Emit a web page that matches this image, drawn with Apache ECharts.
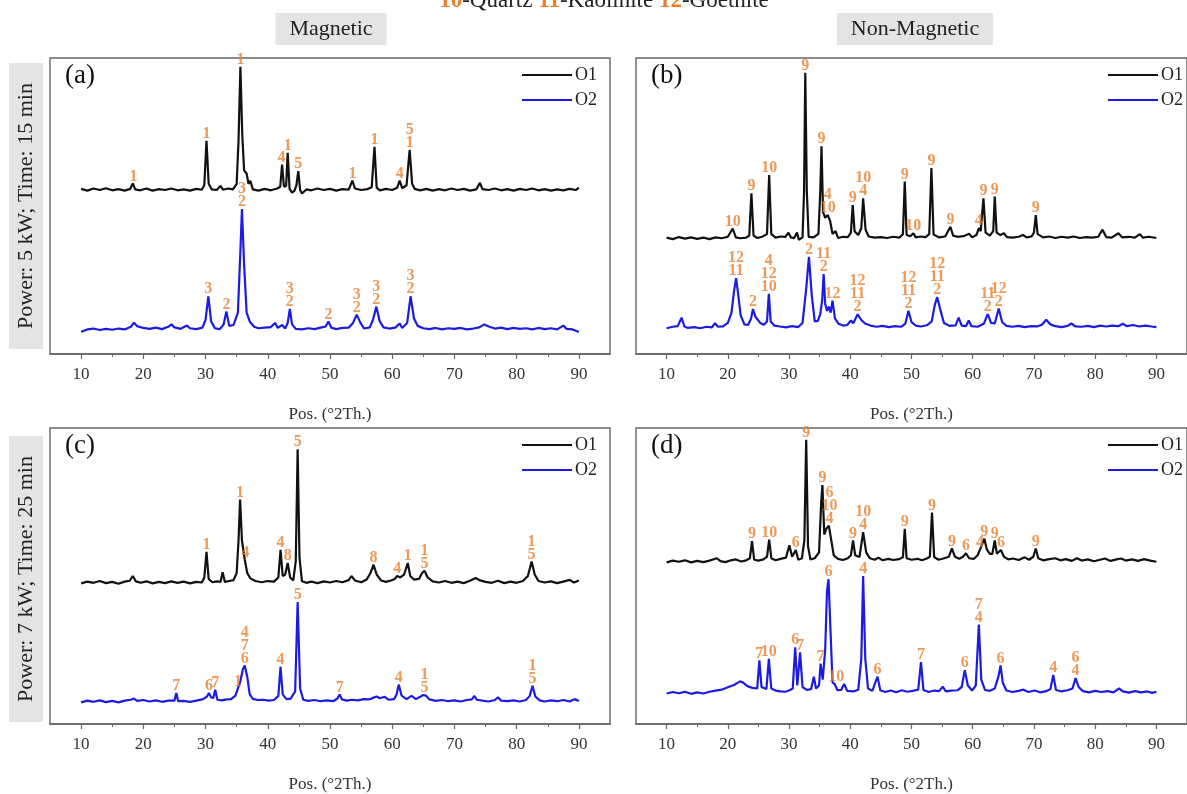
<!DOCTYPE html>
<html>
<head>
<meta charset="utf-8">
<title>XRD patterns</title>
<script src="https://cdn.jsdelivr.net/npm/echarts@6.0.0/dist/echarts.min.js"></script>
<style>
html, body { margin: 0; padding: 0; background: #fff; }
#xrdChart { width: 1187px; height: 794px; }
</style>
</head>
<body>
<div id="xrdChart"></div>
<script>
// axis ticks (°2Th)
const majorTicks = [10, 20, 30, 40, 50, 60, 70, 80, 90]
const minorTicks = [15, 25, 35, 45, 55, 65, 75, 85]
const seriesNames = ['O1', 'O2']
const panelNames = ['(a)', '(b)', '(c)', '(d)']
const rowTitles = ['Power: 5 kW; Time: 15 min', 'Power: 7 kW; Time: 25 min']
const colTitles = ['Magnetic', 'Non-Magnetic']

// (a) magnetic, 5 kW 15 min  -- [2theta, intensity as plotted]
const aO1 = [[10,55.8],[11,55.2],[12,55.9],[13,55.4],[14,56.0],[15,55.3],[16,55.7],[17,55.2],[17.9,55.8],[18.3,57.6],[18.7,55.6],[19.5,55.3],[20.5,55.9],[21.5,55.2],[22.5,55.7],[23.5,55.4],[24.5,55.9],[25.5,55.3],[26.5,55.6],[27.5,55.2],[28.5,55.8],[29.4,55.5],[29.8,57],[30.15,72],[30.5,57.5],[31,55.6],[31.8,55.4],[32.4,56.8],[32.8,55.5],[33.6,55.9],[34.4,55.6],[35.0,57.5],[35.3,72],[35.6,97],[35.9,74],[36.2,62],[36.6,61],[36.9,57.5],[37.2,58.5],[37.6,55.6],[38.5,55.2],[39.5,55.8],[40.5,55.3],[41.5,55.9],[42.0,56.5],[42.3,64],[42.6,56.5],[42.95,56.8],[43.2,68],[43.5,55.8],[43.9,54.5],[44.3,55.2],[44.6,57],[44.9,61.8],[45.2,55.4],[45.5,54.2],[46.2,55.6],[47,55.3],[48,55.9],[49,55.4],[50,55.8],[51,55.2],[52,55.7],[53,55.5],[53.6,58.6],[54.0,55.9],[55,55.4],[56,55.7],[56.7,56.3],[57.15,70],[57.5,56.2],[58,55.3],[59,55.8],[60,55.4],[60.8,56.2],[61.2,58.6],[61.6,56],[62.3,57],[62.8,69],[63.2,57.5],[63.6,55.8],[64.5,55.3],[65.5,55.8],[66.5,55.2],[67.5,55.7],[68.5,55.3],[69.5,55.9],[70.5,55.4],[71.5,55.8],[72.5,55.2],[73.5,55.6],[74.1,57.8],[74.5,55.7],[75.5,55.4],[76.5,55.9],[77.5,55.3],[78.5,55.7],[79.5,55.2],[80.5,55.8],[81.5,55.4],[82.5,55.9],[83.5,55.3],[84.5,55.7],[85.5,55.2],[86.5,55.6],[87.5,55.3],[88.5,55.8],[89.5,55.4],[90,56.2]]
const aO2 = [[10,7.5],[11,8.3],[12,8.6],[13,8.1],[14,8.5],[15,8.2],[16,8.6],[17,8.3],[18,9.2],[18.5,10.6],[19,9.4],[20,8.8],[21,8.5],[22,8.9],[23,8.4],[24,9.2],[24.5,10],[25,9],[26,8.5],[27,9.6],[27.5,8.7],[28.5,8.4],[29.5,8.9],[30.0,11.5],[30.45,19.5],[30.9,11],[31.5,8.7],[32.3,8.4],[32.9,10],[33.35,14.4],[33.8,9.5],[34.5,9.8],[35.2,14],[35.6,35],[35.85,49],[36.2,30],[36.6,14],[37.1,11],[37.8,9.2],[38.5,8.7],[39.5,8.9],[40.5,9.1],[41.2,10.5],[41.6,8.8],[42.3,9.8],[42.8,8.6],[43.2,10.5],[43.55,15.2],[43.9,10],[44.5,8.5],[45.5,8.3],[46.5,8.7],[47.5,8.4],[48.5,8.9],[49.3,9.3],[49.75,11],[50.2,8.9],[51,8.4],[52,8.8],[53,8.9],[53.7,10.5],[54.3,13.3],[54.9,10.5],[55.5,8.6],[56.4,9],[56.9,11.5],[57.45,16],[58,11],[58.6,9],[59.5,8.6],[60.5,8.9],[61.2,10.3],[61.6,8.8],[62.4,10.5],[62.95,19.5],[63.5,12],[64.1,9.5],[65,8.7],[66,8.4],[67,8.8],[68,8.3],[69,8.7],[70,8.5],[71,8.8],[72,8.3],[73,8.6],[74,9],[74.8,10],[75.5,9.3],[76.5,8.6],[77.5,8.9],[78.5,8.4],[79.5,8.8],[80.5,8.5],[81.5,8.7],[82.5,8.3],[83.5,8.8],[84.5,8.4],[85.5,8.7],[86.5,8.3],[87.5,9.6],[88,8.5],[89,8.3],[90,7.4]]
const aLab1 = [[18.4,57.6,'1'],[30.15,72,'1'],[35.6,97,'1'],[42.2,64,'4'],[43.2,68,'1'],[44.9,61.8,'5'],[53.6,58.6,'1'],[57.15,70,'1'],[61.2,58.6,'4'],[62.8,69,'5\n1']]
const aLab2 = [[30.45,19.5,'3'],[33.35,14.4,'2'],[35.85,49,'3\n2'],[43.55,15.2,'3\n2'],[49.75,11,'2'],[54.3,13.3,'3\n2'],[57.45,16,'3\n2'],[62.95,19.5,'3\n2']]

// (b) non-magnetic, 5 kW 15 min
const bO1 = [[10,39.3],[11,38.8],[12,39.5],[13,39.0],[14,39.4],[15,38.9],[16,39.3],[17,38.8],[18,39.4],[19,39.1],[20,39.6],[20.8,42.4],[21.3,39.4],[22,39.1],[23,39.3],[23.5,40],[23.85,54.3],[24.2,40],[24.8,39.2],[25.6,39.6],[26.4,40.5],[26.75,60.5],[27.1,40.5],[27.8,39.3],[28.6,39.7],[29.4,39.6],[29.9,41],[30.3,39.4],[30.8,39.1],[31.3,41],[31.6,38.6],[32.2,39.4],[32.45,55],[32.65,95],[32.9,55],[33.2,39.6],[34,39.4],[34.8,40.6],[35.1,55],[35.3,70.2],[35.55,48],[35.9,46],[36.3,47],[36.7,45],[37.1,40.6],[37.6,41.5],[38,39.2],[38.8,39.6],[39.6,39.5],[40.1,41],[40.4,50.3],[40.7,41.5],[41.3,40.2],[41.8,42.5],[42.1,52.6],[42.5,42],[43,39.7],[44,39.3],[45,39.5],[46,39.2],[47,39.6],[48,39.3],[48.6,40.5],[48.9,58.3],[49.2,40.2],[49.8,39.8],[50.3,40.8],[50.7,39.4],[51.5,39.7],[52.3,39.5],[52.9,40.5],[53.25,62.8],[53.6,40.4],[54.5,39.4],[55.5,39.7],[56.35,43],[56.8,40],[57.5,39.6],[58.5,39.8],[59.4,40.6],[59.9,39.4],[60.6,40.2],[61,42.5],[61.3,41.5],[61.75,52.6],[62.1,41],[62.8,40],[63.35,41.5],[63.6,53.2],[63.9,41],[64.5,40.2],[65.1,40.8],[65.6,39.5],[66.5,39.3],[67.5,39.6],[68.2,40.2],[68.8,39.4],[69.6,39.7],[70.0,41],[70.3,46.9],[70.6,40.5],[71.5,39.4],[72.5,39.7],[73.5,39.2],[74.5,39.6],[75.5,39.3],[76.5,39.7],[77.5,39.2],[78.5,39.5],[79.5,39.3],[80.5,39.6],[81.2,42],[81.8,39.5],[82.7,39.3],[83.8,40.8],[84.4,39.4],[85.5,39.6],[86.5,39.3],[87.3,40.5],[87.8,39.3],[88.8,39.6],[90,39.2]]
const bO2 = [[10,8.7],[11,9.2],[11.8,9.4],[12.45,12.3],[12.9,9.3],[13.5,8.8],[14.5,9.1],[15.5,8.7],[16.5,9.2],[17.4,9.0],[17.9,10.4],[18.4,9.2],[19.2,9.3],[20.0,10.5],[20.6,14],[21.0,21],[21.35,25.6],[21.7,20],[22.1,13],[22.7,10],[23.3,9.8],[23.8,12],[24.1,15.2],[24.5,12.6],[24.8,13],[25.3,10.5],[25.9,9.9],[26.4,11],[26.7,20.3],[27.0,11],[27.6,9.6],[28.5,9.3],[29.5,9.0],[30.5,9.4],[31.5,9.1],[32.2,10.5],[32.8,22],[33.25,32.8],[33.7,20],[34.2,11],[34.7,11.2],[35.1,13.5],[35.4,18],[35.65,27],[35.9,17],[36.2,14.5],[36.5,16],[36.8,14],[37.1,18],[37.5,12],[38.1,10.2],[38.8,9.6],[39.5,9.8],[40.1,11.3],[40.5,10.4],[41.2,13.4],[41.8,11.5],[42.5,10.2],[43.3,9.6],[44.3,9.2],[45.3,9.5],[46.3,9.1],[47.3,9.4],[48.3,9.2],[49.0,10.3],[49.5,14.6],[50,10.8],[50.7,9.6],[51.5,9.3],[52.5,9.7],[53.3,11],[53.8,16.5],[54.2,19.2],[54.7,15],[55.3,10.5],[56.2,9.5],[57.2,9.7],[57.7,12.3],[58.2,9.6],[58.9,9.4],[59.35,11.3],[59.8,9.4],[60.8,9.2],[61.8,10.2],[62.45,13.5],[63.0,10.5],[63.6,10.3],[64.25,15.4],[64.8,10.8],[65.5,9.5],[66.5,9.2],[67.5,9.5],[68.5,9.1],[69.5,9.4],[70.5,9.3],[71.3,9.9],[72,11.6],[72.7,10],[73.5,9.4],[74.5,9.1],[75.5,9.5],[76.1,10.3],[76.8,9.3],[77.8,9.2],[78.8,9.5],[79.8,9.1],[80.8,9.6],[81.8,9.3],[82.8,9.6],[83.8,9.4],[84.5,10.2],[85.2,9.4],[86.2,9.8],[87.2,9.3],[88.2,9.6],[89.2,9.3],[90,9.1]]
const bLab1 = [[20.8,42.4,'10'],[23.85,54.3,'9'],[26.75,60.5,'10'],[32.65,95,'9'],[35.3,70.2,'9'],[36.3,47,'4\n10'],[40.4,50.3,'9'],[42.1,52.6,'10\n4'],[48.9,58.3,'9'],[50.3,40.8,'10'],[53.25,62.8,'9'],[56.35,43,'9'],[61,42.5,'4'],[61.75,52.6,'9'],[63.6,53.2,'9'],[70.3,46.9,'9']]
const bLab2 = [[21.35,25.6,'12\n11'],[24.1,15.2,'2'],[26.7,20.3,'4\n12\n10'],[33.25,32.8,'2'],[35.65,27,'11\n2'],[37.1,18,'12'],[41.2,13.4,'12\n11\n2'],[49.5,14.6,'12\n11\n2'],[54.2,19.2,'12\n11\n2'],[62.45,13.5,'11\n2'],[64.25,15.4,'12\n2']]

// (c) magnetic, 7 kW 25 min
const cO1 = [[10,47.5],[11,48.1],[12,47.7],[13,48.3],[14,47.6],[15,48.0],[16,47.4],[17,48.1],[17.8,48.4],[18.3,50],[18.8,48.2],[19.6,47.7],[20.5,48.2],[21.5,47.5],[22.5,48.0],[23.5,47.6],[24.5,48.2],[25.5,47.7],[26.5,48.1],[27.5,47.5],[28.5,48.0],[29.4,47.8],[29.8,49.5],[30.15,58.2],[30.5,49],[31.1,47.9],[31.8,48.2],[32.4,48],[32.75,51.3],[33.1,48],[33.8,48.3],[34.5,48.6],[35.0,51],[35.3,62],[35.55,75.8],[35.85,62],[36.3,55.5],[36.7,51],[37.2,49.2],[38,48.3],[39,47.9],[40,48.3],[41,48.1],[41.7,49.5],[42.05,58.8],[42.4,50],[42.8,50.5],[43.2,54.4],[43.6,49.5],[44.1,48.5],[44.5,55],[44.8,92.8],[45.1,56],[45.5,48.2],[46.2,47.7],[47,48.1],[48,47.6],[49,48.2],[50,47.8],[51,48.3],[52,47.9],[53,48.6],[53.45,50],[54,48.5],[55,47.9],[55.9,48.8],[56.5,51],[57,53.8],[57.5,50.5],[58.2,48.5],[59,48],[59.8,48.5],[60.4,49],[60.8,50],[61.3,49.5],[61.9,50.5],[62.5,54.4],[62.9,50],[63.5,48.8],[64.3,49],[64.8,51],[65.2,51.8],[65.7,49.5],[66.5,48.2],[67.5,47.8],[68.5,48.3],[69.5,47.7],[70.5,48.1],[71.5,47.6],[72.5,48.4],[73.4,49.3],[74,48.6],[75,48],[76,47.7],[77,48.4],[78,47.6],[79,48.1],[80,47.7],[81,48.3],[81.8,50],[82.4,54.9],[82.9,50.5],[83.5,48.3],[84.5,47.8],[85.5,48.2],[86.5,47.6],[87.5,48.1],[88.5,48.7],[89.2,47.8],[90,48.5]]
const cO2 = [[10,7.3],[11,7.9],[12,7.5],[13,8.0],[14,7.4],[15,7.8],[16,7.3],[17,7.9],[18,8.2],[18.5,8.6],[19,7.8],[20,8.1],[21,7.6],[22,8.0],[23,7.5],[24,7.9],[25.0,7.9],[25.3,10.5],[25.6,7.7],[26.5,7.8],[27.5,7.5],[28.5,7.9],[29.5,8.3],[30.2,9.2],[30.55,10.5],[30.9,9],[31.25,8.8],[31.55,11.6],[31.9,8.2],[32.6,8],[33.4,8.3],[34.1,8.4],[34.8,9.6],[35.2,12],[35.6,14.5],[36.0,18.5],[36.3,19.8],[36.7,16],[37.1,10],[37.6,8.5],[38.4,8.1],[39.3,8.2],[40.2,7.9],[41,8.1],[41.7,9.5],[42.05,19.3],[42.4,10],[43,8.4],[43.7,8.6],[44.4,11],[44.8,41.2],[45.2,12],[45.7,8.2],[46.5,7.8],[47.5,8.1],[48.5,7.7],[49.5,8.0],[50.5,7.7],[51.2,8.6],[51.55,10],[51.9,8.3],[52.7,7.9],[53.5,8.2],[54.5,8.0],[55.4,8.4],[56.3,8.3],[57.1,9],[57.5,9.3],[58,8.7],[58.8,9.2],[59.4,8.2],[60.3,8.4],[60.7,10],[61.05,13.3],[61.5,9.6],[62.3,8.4],[63.1,9.5],[63.8,8.4],[64.5,9.2],[65.0,9.8],[65.4,9.6],[66,8.3],[67,7.8],[68,8.1],[69,7.7],[70,8.0],[71,7.6],[72,8.1],[72.8,8.3],[73.2,9.5],[73.6,8.2],[74.5,7.9],[75.5,7.6],[76.5,8.1],[77,9],[77.5,7.9],[78.5,7.7],[79.5,8.0],[80.5,7.6],[81.5,8.1],[82.1,9.5],[82.55,12.9],[83,9.3],[83.7,8],[84.5,7.6],[85.5,8.0],[86.5,7.7],[87.5,8.1],[88.5,7.6],[89.3,8.4],[90,7.8]]
const cLab1 = [[30.15,58.2,'1'],[35.55,75.8,'1'],[36.4,55.5,'4'],[42.05,58.8,'4'],[43.2,54.4,'8'],[44.8,92.8,'5'],[57,53.8,'8'],[60.8,50,'4'],[62.5,54.4,'1'],[65.2,51.8,'1\n5'],[82.4,54.9,'1\n5']]
const cLab2 = [[25.3,10.5,'7'],[30.55,10.5,'6'],[31.55,11.6,'7'],[35.2,12,'1'],[36.3,19.8,'4\n7\n6'],[42.05,19.3,'4'],[44.8,41.2,'5'],[51.55,10,'7'],[61.05,13.3,'4'],[65.2,9.8,'1\n5'],[82.55,12.9,'1\n5']]

// (d) non-magnetic, 7 kW 25 min
const dO1 = [[10,54.6],[11,55.2],[12,54.8],[13,55.3],[14,54.6],[15,55.1],[16,54.7],[17,55.2],[18.2,56],[18.8,55],[19.6,54.7],[20.5,55.3],[21.3,55.6],[22.2,54.9],[23,55.3],[23.6,56],[23.95,61.8],[24.3,55.5],[25,55.2],[25.8,55.6],[26.4,56.5],[26.75,62.3],[27.1,56],[27.8,55.3],[28.6,55.8],[29.5,56.2],[30.05,60.4],[30.5,56.5],[30.8,56],[31.1,58.8],[31.5,55.5],[32.1,56],[32.5,62],[32.8,96],[33.1,60],[33.5,55.6],[34.2,56],[34.9,58],[35.25,75],[35.45,80.7],[35.75,64],[36.1,66],[36.5,67],[36.9,62],[37.3,57],[38,55.8],[38.8,55.4],[39.6,56],[40.1,57],[40.45,62],[40.8,57],[41.5,56.4],[42.1,64.8],[42.6,58],[43.2,56],[44,55.5],[44.6,56.2],[45.3,55.3],[46.2,55.8],[47,55.4],[48,55.7],[48.6,56.3],[48.9,65.9],[49.2,56],[50,55.5],[51,55.8],[51.7,55.3],[52.5,55.9],[53.0,56.5],[53.35,71.4],[53.7,56.4],[54.4,55.5],[55.2,55.9],[56.1,56.5],[56.6,59.3],[57.1,56.5],[57.8,55.8],[58.4,56.5],[58.9,57.7],[59.4,56],[60.2,55.8],[60.8,57],[61.2,59],[61.5,58.5],[61.9,62.6],[62.3,59],[62.8,57.5],[63.2,57.5],[63.6,62],[63.95,57.5],[64.6,58.8],[65.1,56.5],[65.8,55.6],[66.6,55.9],[67.5,55.4],[68.5,56.3],[69.2,55.5],[69.9,56.5],[70.3,59.3],[70.7,56],[71.5,55.3],[72.5,55.7],[73.5,56],[74.3,55.3],[75.2,55.7],[76.2,55.1],[77,56],[77.8,55.2],[78.8,55.6],[79.8,55],[80.8,55.5],[81.6,55.9],[82.5,55.1],[83.5,55.6],[84.2,55.9],[85,55.2],[86,55.6],[87,55.1],[88,55.7],[89,55.2],[90,54.8]]
const dO2 = [[10,10.3],[11,10.8],[12,10.4],[13,10.9],[14,10.2],[15,10.7],[16,10.3],[17,10.9],[18,11.3],[19,11.6],[20,12.4],[21,13.2],[22,14.4],[22.5,14],[23.2,12.8],[24,12.2],[24.8,12],[25.15,21.5],[25.5,12.5],[26.3,11.8],[26.7,22],[27.1,12],[27.8,11.3],[28.6,11],[29.4,10.9],[30.1,11.4],[30.6,12],[31.0,25.9],[31.35,13],[31.8,24.2],[32.2,12.5],[32.9,11.5],[33.6,11.8],[34.05,16],[34.4,12],[34.9,13],[35.15,20.4],[35.5,15],[35.9,25],[36.2,45],[36.45,48.9],[36.8,30],[37.1,14],[37.45,13.5],[37.9,11.4],[38.5,11.5],[39.0,13.5],[39.5,11.2],[40.5,11],[41.3,11.6],[41.8,22],[42.1,50],[42.45,22],[42.9,12],[43.6,11.2],[44.45,16],[44.9,11.4],[45.7,10.8],[46.6,11.3],[47.5,10.7],[48.4,11.4],[49.3,10.9],[50.2,11.2],[51.1,11.6],[51.55,20.9],[51.95,11.5],[52.8,10.8],[53.7,11.3],[54.5,11.1],[55.1,12.6],[55.6,11],[56.5,11.3],[57.5,11.4],[58.2,12.5],[58.7,18.2],[59.2,13],[59.9,11.3],[60.5,13],[61.0,33.6],[61.4,15],[62,11.5],[62.8,11.2],[63.6,12],[64.2,16],[64.55,19.8],[64.9,14],[65.5,11.3],[66.5,10.8],[67.5,11.2],[68.3,11.6],[69.1,10.8],[70.1,11.3],[71,10.7],[72,11.1],[72.7,11.8],[73.15,16.6],[73.6,11.5],[74.5,11],[75.5,11.4],[76.3,12],[76.8,15.5],[77.3,12.5],[78,11.1],[79,10.7],[80,11.2],[81,10.8],[82,11.1],[83,10.7],[83.9,12],[84.5,11],[85.5,10.6],[86.5,11.1],[87.5,10.7],[88.5,11.0],[89.3,10.5],[90,10.9]]
const dLab1 = [[23.95,61.8,'9'],[26.75,62.3,'10'],[31.1,58.8,'6'],[32.8,96,'9'],[35.45,80.7,'9'],[36.6,67,'6\n10\n4'],[40.45,62,'9'],[42.1,64.8,'10\n4'],[48.9,65.9,'9'],[53.35,71.4,'9'],[56.6,59.3,'9'],[58.9,57.7,'6'],[61.2,59,'4'],[61.9,62.6,'9'],[63.6,62,'9'],[64.6,58.8,'6'],[70.3,59.3,'9']]
const dLab2 = [[25.15,21.5,'7'],[26.7,22,'10'],[31.0,25.9,'6'],[31.8,24.2,'7'],[35.15,20.4,'7'],[36.45,48.9,'6'],[37.7,13.5,'10'],[42.1,50,'4'],[44.45,16,'6'],[51.55,20.9,'7'],[58.7,18.2,'6'],[61.0,33.6,'7\n4'],[64.55,19.8,'6'],[73.15,16.6,'4'],[76.8,15.5,'6\n4']]

const serif = "'Liberation Serif', 'DejaVu Serif', serif"
const orange = '#e8802f'
const lineColors = ['#111111', '#1c1ce0']

// panel boxes in pixels
const panels = [
  { left: 50, top: 58, width: 560, height: 296, o1: aO1, o2: aO2, lab1: aLab1, lab2: aLab2 },
  { left: 636, top: 58, width: 562, height: 296, o1: bO1, o2: bO2, lab1: bLab1, lab2: bLab2 },
  { left: 50, top: 428, width: 560, height: 303, o1: cO1, o2: cO2, lab1: cLab1, lab2: cLab2 },
  { left: 636, top: 428, width: 562, height: 303, o1: dO1, o2: dO2, lab1: dLab1, lab2: dLab2 }
]

let grid = [], xAxis = [], yAxis = [], series = [], legend = [], graphic = []

panels.forEach((p, i) => {
  grid.push({
    left: p.left, top: p.top, width: p.width, height: p.height,
    show: true, borderColor: '#666', borderWidth: 1.4
  })
  // main axis with labels and major ticks
  xAxis.push({
    gridIndex: i, type: 'value', min: 5, max: 95, position: 'bottom',
    name: 'Pos. (°2Th.)', nameLocation: 'middle', nameGap: 52,
    nameTextStyle: { fontFamily: serif, fontSize: 17, color: '#333' },
    axisLine: { lineStyle: { color: '#666', width: 1.5 } },
    axisTick: { customValues: majorTicks, length: 5, lineStyle: { color: '#666', width: 1.2 } },
    axisLabel: { customValues: majorTicks, fontFamily: serif, fontSize: 17, color: '#333', margin: 12 },
    splitLine: { show: false }
  })
  // minor ticks only
  xAxis.push({
    gridIndex: i, type: 'value', min: 5, max: 95, position: 'bottom',
    axisLine: { show: false },
    axisTick: { customValues: minorTicks, length: 3, lineStyle: { color: '#666', width: 1 } },
    axisLabel: { show: false },
    splitLine: { show: false }
  })
  yAxis.push({ gridIndex: i, type: 'value', min: 0, max: 100, show: false })

  ;[p.o1, p.o2].forEach((d, k) => {
    series.push({
      name: seriesNames[k], type: 'line', xAxisIndex: 2 * i, yAxisIndex: i,
      data: d, showSymbol: false, symbol: 'none',
      lineStyle: { color: lineColors[k], width: 2.2 },
      itemStyle: { color: lineColors[k] }
    })
  })
  ;[p.lab1, p.lab2].forEach(d => {
    series.push({
      type: 'scatter', xAxisIndex: 2 * i, yAxisIndex: i, data: d,
      symbolSize: 1, itemStyle: { color: 'rgba(0,0,0,0)' }, silent: true, z: 5,
      label: {
        show: true, position: 'top', distance: 0,
        formatter: q => q.data[2],
        color: orange, fontFamily: serif, fontWeight: 'bold', fontSize: 16, lineHeight: 13
      }
    })
  })

  legend.push({
    data: seriesNames, orient: 'vertical', left: p.left + 467, top: p.top + 3,
    icon: 'rect', itemWidth: 50, itemHeight: 2, itemGap: 7, selectedMode: false,
    textStyle: { fontFamily: serif, fontSize: 18, color: '#222', padding: [0, 0, 0, -2] }
  })

  graphic.push({
    type: 'text', left: p.left + 15, top: p.top + 4,
    style: { text: panelNames[i], font: '27px ' + serif, fill: '#111' }
  })
})

// column headers
colTitles.forEach((t, i) => {
  graphic.push({
    type: 'text', x: [331, 915][i], y: 29,
    style: {
      text: t, font: '22px ' + serif, fill: '#222', align: 'center', verticalAlign: 'middle',
      backgroundColor: '#e4e4e4', padding: [6, 14, 4, 14]
    }
  })
})
// row headers, rotated
rowTitles.forEach((t, i) => {
  graphic.push({
    type: 'text', x: 26, y: [206, 579][i], rotation: Math.PI / 2,
    style: {
      text: t, font: '22px ' + serif, fill: '#222', align: 'center', verticalAlign: 'middle',
      backgroundColor: '#e4e4e4', padding: [6, 20, 6, 20]
    }
  })
})
// phase key, cut at the top edge
graphic.push({
  type: 'text', x: 604, y: 1,
  style: {
    text: '{n|10}-Quartz {n|11}-Kaolinite {n|12}-Goethite',
    font: '23px ' + serif, fill: '#222', align: 'center', verticalAlign: 'middle',
    rich: { n: { fill: orange, fontWeight: 'bold', fontSize: 23, fontFamily: serif } }
  }
})

let myChart = echarts.init(document.getElementById('xrdChart'))
myChart.setOption({
  animation: false,
  backgroundColor: '#fff',
  grid: grid,
  xAxis: xAxis,
  yAxis: yAxis,
  legend: legend,
  series: series,
  graphic: graphic
})
</script>
</body>
</html>
